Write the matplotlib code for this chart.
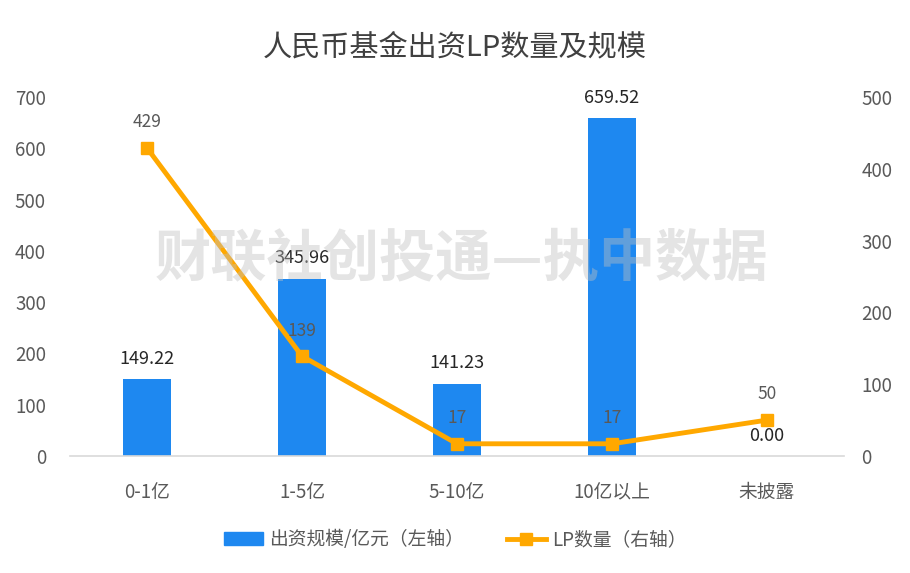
import matplotlib
matplotlib.use("Agg")
import matplotlib.pyplot as plt
import numpy as np
from matplotlib.patches import Patch
from matplotlib.lines import Line2D

plt.rcParams['font.family'] = ['Noto Sans CJK SC', 'DejaVu Sans']

categories = ['0-1亿', '1-5亿', '5-10亿', '10亿以上', '未披露']
scale_values = [149.22, 345.96, 141.23, 659.52, 0.00]
lp_counts = [429, 139, 17, 17, 50]
left_ticks = [0, 100, 200, 300, 400, 500, 600, 700]
right_ticks = [0, 100, 200, 300, 400, 500]

bar_color = '#1E88F0'
line_color = '#FFA800'
tick_color = '#595959'

fig = plt.figure(figsize=(9.1, 5.73), dpi=100)
ax = fig.add_axes([0.0764, 0.2042, 0.8516, 0.6265])
ax2 = ax.twinx()

x = np.arange(len(categories))
ax.bar(x, scale_values, width=0.31, color=bar_color, zorder=2)
ax.set_xlim(-0.5, len(categories) - 0.5)
ax.set_ylim(0, 700)
ax.set_yticks(left_ticks)
ax.set_xticks(x)
ax.set_xticklabels(categories)

ax2.plot(x, lp_counts, color=line_color, lw=3.5, marker='s', ms=9, zorder=3)
ax2.set_ylim(0, 500)
ax2.set_yticks(right_ticks)

for a in (ax, ax2):
    for s in a.spines.values():
        s.set_visible(False)
    a.tick_params(length=0, labelsize=13.5, colors=tick_color)
ax.spines['bottom'].set_visible(True)
ax.spines['bottom'].set_color('#D9D9D9')
ax.spines['bottom'].set_linewidth(1.2)
ax.tick_params(axis='x', pad=19)
ax.tick_params(axis='y', pad=17)
ax2.tick_params(axis='y', pad=12)

for xi, v in zip(x, scale_values):
    ax.annotate(f'{v:.2f}', (xi, v), xytext=(0, 8), textcoords='offset points',
                ha='center', va='bottom', fontsize=13, color='#262626',
                fontweight='medium')
for xi, v in zip(x, lp_counts):
    ax2.annotate(f'{v}', (xi, v), xytext=(0, 12), textcoords='offset points',
                 ha='center', va='bottom', fontsize=12.5, color=tick_color)

fig.text(0.5, 0.918, '人民币基金出资LP数量及规模', ha='center', va='center',
         fontsize=21, color='#404040')

fig.text(0.507, 0.548, '财联社创投通—执中数据', ha='center', va='center',
         fontsize=40.5, fontweight='bold', color='#BFBFBF',
         alpha=0.42, zorder=10)

handles = [Patch(color=bar_color, label='出资规模/亿元（左轴）'),
           Line2D([0], [0], color=line_color, lw=3.5, marker='s', ms=9,
                  label='LP数量（右轴）')]
fig.legend(handles=handles, loc='center', bbox_to_anchor=(0.5, 0.058), ncol=2,
           frameon=False, fontsize=13.5, labelcolor=tick_color,
           handlelength=2.1, columnspacing=2.3, handletextpad=0.3)

fig.savefig('out.png', dpi=100)
